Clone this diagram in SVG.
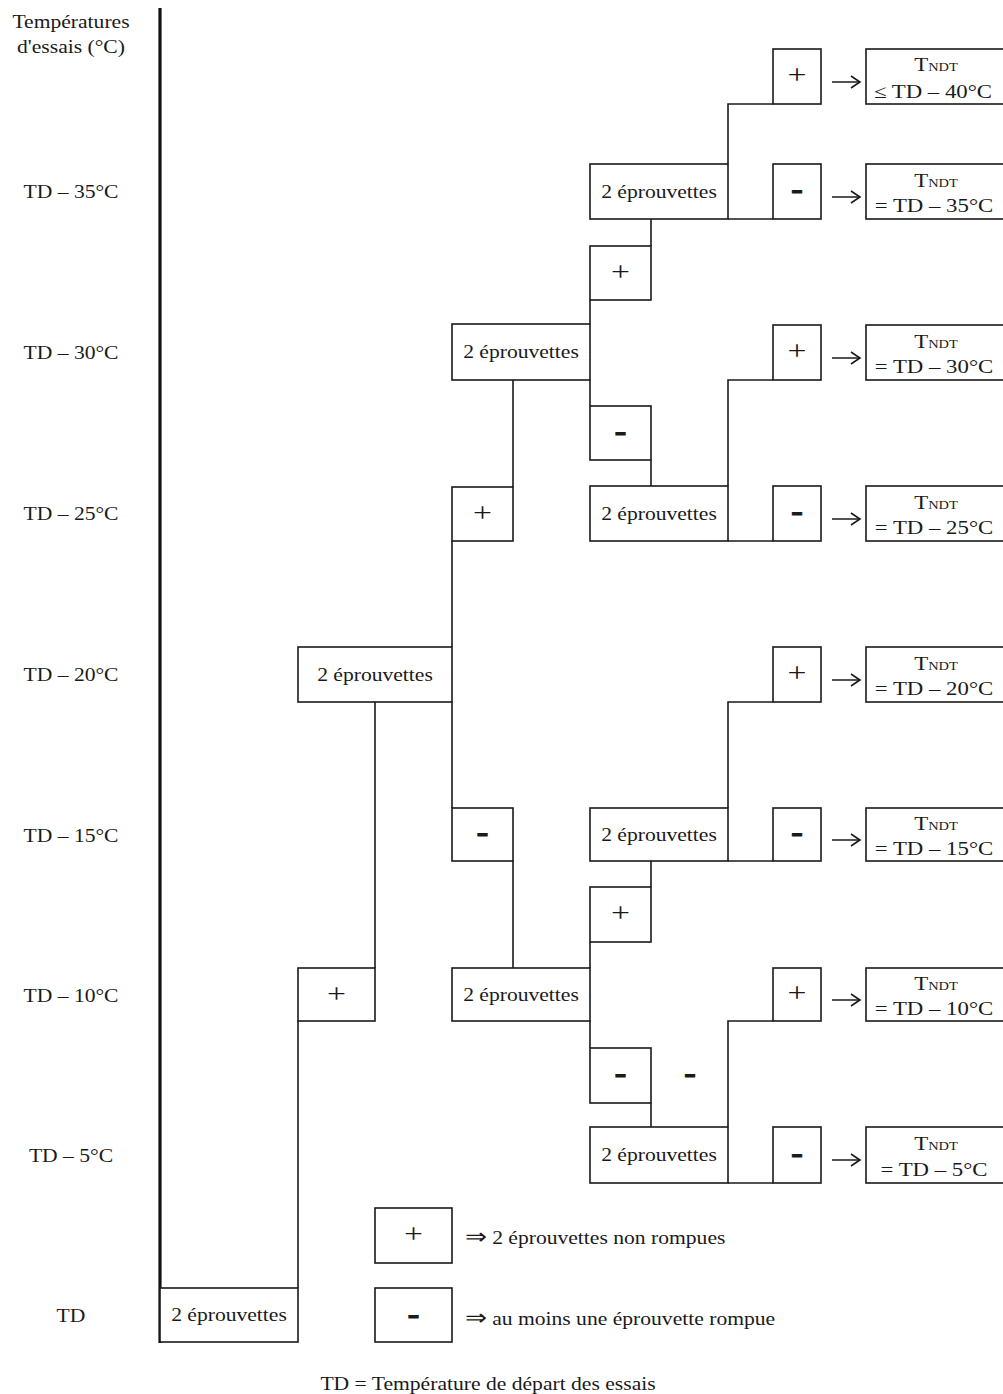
<svg xmlns="http://www.w3.org/2000/svg" width="1003" height="1394" viewBox="0 0 1003 1394">
<style>
.box{fill:#fff;stroke:#1a1a1a;stroke-width:1.6}
.conn{fill:none;stroke:#1a1a1a;stroke-width:1.6}
.arrow{fill:none;stroke:#1a1a1a;stroke-width:1.5;marker-end:url(#arr)}
.axis{stroke:#111;stroke-width:3.2}
text{font-family:"Liberation Serif","Times New Roman",serif;fill:#1a1a1a;text-anchor:middle}
.t{font-size:18px}
.r{font-size:19px}
.sub{font-size:12px}
.plus{font-size:28px}
.minus{font-size:30px;font-weight:bold;stroke:#1a1a1a;stroke-width:0.8}
.imp{font-size:22px}
.leg{text-anchor:start}
</style>
<defs>
<marker id="arr" markerUnits="userSpaceOnUse" markerWidth="12" markerHeight="14" refX="10" refY="7" orient="auto">
<path d="M1,1 L10,7 L1,13" fill="none" stroke="#1a1a1a" stroke-width="1.6"/>
</marker>
</defs>
<rect width="1003" height="1394" fill="#fff"/>

<g id="axis">
<line class="axis" x1="160" y1="8" x2="160" y2="1343"/>
<text class="t" transform="translate(71,28) scale(1.2,1)">Températures</text>
<text class="t" transform="translate(71,53) scale(1.2,1)">d'essais (°C)</text>
<text class="t" transform="translate(71,198) scale(1.2,1)">TD – 35°C</text>
<text class="t" transform="translate(71,359) scale(1.2,1)">TD – 30°C</text>
<text class="t" transform="translate(71,520) scale(1.2,1)">TD – 25°C</text>
<text class="t" transform="translate(71,681) scale(1.2,1)">TD – 20°C</text>
<text class="t" transform="translate(71,842) scale(1.2,1)">TD – 15°C</text>
<text class="t" transform="translate(71,1002) scale(1.2,1)">TD – 10°C</text>
<text class="t" transform="translate(71,1162) scale(1.2,1)">TD – 5°C</text>
<text class="t" transform="translate(71,1322) scale(1.2,1)">TD</text>
</g>

<g id="connectors">
<path class="conn" d="M298,1021 V1288"/>
<path class="conn" d="M375,702 V968"/>
<path class="conn" d="M452,541 V647"/>
<path class="conn" d="M452,702 V808"/>
<path class="conn" d="M513,380 V487"/>
<path class="conn" d="M590,300 V324"/>
<path class="conn" d="M590,380 V406"/>
<path class="conn" d="M651,219 V246"/>
<path class="conn" d="M651,460 V486"/>
<path class="conn" d="M728,164 V104 H773"/>
<path class="conn" d="M728,219 H773"/>
<path class="conn" d="M728,486 V380 H773"/>
<path class="conn" d="M728,541 H773"/>
<path class="conn" d="M513,861 V968"/>
<path class="conn" d="M590,942 V968"/>
<path class="conn" d="M590,1021 V1048"/>
<path class="conn" d="M651,861 V887"/>
<path class="conn" d="M651,1103 V1127"/>
<path class="conn" d="M728,808 V702 H773"/>
<path class="conn" d="M728,861 H773"/>
<path class="conn" d="M728,1127 V1021 H773"/>
<path class="conn" d="M728,1183 H773"/>
<path class="arrow" d="M832,82 H860"/>
<path class="arrow" d="M832,197 H860"/>
<path class="arrow" d="M832,358 H860"/>
<path class="arrow" d="M832,519 H860"/>
<path class="arrow" d="M832,680 H860"/>
<path class="arrow" d="M832,840 H860"/>
<path class="arrow" d="M832,1000 H860"/>
<path class="arrow" d="M832,1160 H860"/>
</g>

<g id="n-td"><rect class="box" x="160" y="1288" width="138" height="54"/><text class="t" transform="translate(229,1321) scale(1.2,1)">2 éprouvettes</text></g>
<g id="n-plus-td10"><rect class="box" x="298" y="968" width="77" height="53"/><text class="plus" transform="translate(336.5,1003) scale(1.2,1)">+</text></g>
<g id="n-td20"><rect class="box" x="298" y="647" width="154" height="55"/><text class="t" transform="translate(375,681) scale(1.2,1)">2 éprouvettes</text></g>
<g id="n-plus-td25"><rect class="box" x="452" y="487" width="61" height="54"/><text class="plus" transform="translate(482.5,522) scale(1.2,1)">+</text></g>
<g id="n-minus-td15"><rect class="box" x="452" y="808" width="61" height="53"/><text class="minus" transform="translate(482.5,842) scale(1.2,1)">-</text></g>
<g id="n-td30"><rect class="box" x="452" y="324" width="138" height="56"/><text class="t" transform="translate(521,358) scale(1.2,1)">2 éprouvettes</text></g>
<g id="n-td10"><rect class="box" x="452" y="968" width="138" height="53"/><text class="t" transform="translate(521,1001) scale(1.2,1)">2 éprouvettes</text></g>
<g id="n-plus-td33"><rect class="box" x="590" y="246" width="61" height="54"/><text class="plus" transform="translate(620.5,281) scale(1.2,1)">+</text></g>
<g id="n-minus-td28"><rect class="box" x="590" y="406" width="61" height="54"/><text class="minus" transform="translate(620.5,441) scale(1.2,1)">-</text></g>
<g id="n-plus-td13"><rect class="box" x="590" y="887" width="61" height="55"/><text class="plus" transform="translate(620.5,922) scale(1.2,1)">+</text></g>
<g id="n-minus-td8"><rect class="box" x="590" y="1048" width="61" height="55"/><text class="minus" transform="translate(620.5,1083) scale(1.2,1)">-</text><text class="minus" transform="translate(690,1083) scale(1.2,1)">-</text></g>
<g id="n-td35"><rect class="box" x="590" y="164" width="138" height="55"/><text class="t" transform="translate(659,198) scale(1.2,1)">2 éprouvettes</text></g>
<g id="n-td25"><rect class="box" x="590" y="486" width="138" height="55"/><text class="t" transform="translate(659,520) scale(1.2,1)">2 éprouvettes</text></g>
<g id="n-td15"><rect class="box" x="590" y="808" width="138" height="53"/><text class="t" transform="translate(659,841) scale(1.2,1)">2 éprouvettes</text></g>
<g id="n-td5"><rect class="box" x="590" y="1127" width="138" height="56"/><text class="t" transform="translate(659,1161) scale(1.2,1)">2 éprouvettes</text></g>

<g id="n-s40"><rect class="box" x="773" y="49" width="48" height="55"/><text class="plus" transform="translate(797,84) scale(1.2,1)">+</text></g>
<g id="n-s35"><rect class="box" x="773" y="164" width="48" height="55"/><text class="minus" transform="translate(797,199) scale(1.2,1)">-</text></g>
<g id="n-s30"><rect class="box" x="773" y="325" width="48" height="55"/><text class="plus" transform="translate(797,360) scale(1.2,1)">+</text></g>
<g id="n-s25"><rect class="box" x="773" y="486" width="48" height="55"/><text class="minus" transform="translate(797,521) scale(1.2,1)">-</text></g>
<g id="n-s20"><rect class="box" x="773" y="647" width="48" height="55"/><text class="plus" transform="translate(797,682) scale(1.2,1)">+</text></g>
<g id="n-s15"><rect class="box" x="773" y="808" width="48" height="53"/><text class="minus" transform="translate(797,842) scale(1.2,1)">-</text></g>
<g id="n-s10"><rect class="box" x="773" y="968" width="48" height="53"/><text class="plus" transform="translate(797,1002) scale(1.2,1)">+</text></g>
<g id="n-s5"><rect class="box" x="773" y="1127" width="48" height="56"/><text class="minus" transform="translate(797,1163) scale(1.2,1)">-</text></g>

<g id="n-r40"><rect class="box" x="866" y="49" width="145" height="55"/><text class="r" transform="translate(936,71) scale(1.2,1)">T<tspan class="sub">NDT</tspan></text><text class="r" transform="translate(933,98) scale(1.2,1)">≤ TD – 40°C</text></g>
<g id="n-r35"><rect class="box" x="866" y="164" width="145" height="55"/><text class="r" transform="translate(936,187) scale(1.2,1)">T<tspan class="sub">NDT</tspan></text><text class="r" transform="translate(934,212) scale(1.2,1)">= TD – 35°C</text></g>
<g id="n-r30"><rect class="box" x="866" y="325" width="145" height="55"/><text class="r" transform="translate(936,348) scale(1.2,1)">T<tspan class="sub">NDT</tspan></text><text class="r" transform="translate(934,373) scale(1.2,1)">= TD – 30°C</text></g>
<g id="n-r25"><rect class="box" x="866" y="486" width="145" height="55"/><text class="r" transform="translate(936,509) scale(1.2,1)">T<tspan class="sub">NDT</tspan></text><text class="r" transform="translate(934,534) scale(1.2,1)">= TD – 25°C</text></g>
<g id="n-r20"><rect class="box" x="866" y="647" width="145" height="55"/><text class="r" transform="translate(936,670) scale(1.2,1)">T<tspan class="sub">NDT</tspan></text><text class="r" transform="translate(934,695) scale(1.2,1)">= TD – 20°C</text></g>
<g id="n-r15"><rect class="box" x="866" y="808" width="145" height="53"/><text class="r" transform="translate(936,830) scale(1.2,1)">T<tspan class="sub">NDT</tspan></text><text class="r" transform="translate(934,855) scale(1.2,1)">= TD – 15°C</text></g>
<g id="n-r10"><rect class="box" x="866" y="968" width="145" height="53"/><text class="r" transform="translate(936,990) scale(1.2,1)">T<tspan class="sub">NDT</tspan></text><text class="r" transform="translate(934,1015) scale(1.2,1)">= TD – 10°C</text></g>
<g id="n-r5"><rect class="box" x="866" y="1127" width="145" height="56"/><text class="r" transform="translate(936,1150) scale(1.2,1)">T<tspan class="sub">NDT</tspan></text><text class="r" transform="translate(934,1176) scale(1.2,1)">= TD – 5°C</text></g>

<g id="legend">
<rect class="box" x="375" y="1208" width="77" height="55"/>
<text class="plus" transform="translate(413.5,1243) scale(1.2,1)">+</text>
<text class="t leg" transform="translate(465,1244) scale(1.2,1)"><tspan class="imp">⇒</tspan> 2 éprouvettes non rompues</text>
<rect class="box" x="375" y="1288" width="77" height="54"/>
<text class="minus" transform="translate(413.5,1324) scale(1.2,1)">-</text>
<text class="t leg" transform="translate(465,1325) scale(1.2,1)"><tspan class="imp">⇒</tspan> au moins une éprouvette rompue</text>
<text class="t" transform="translate(488,1390) scale(1.2,1)">TD = Température de départ des essais</text>
</g>
</svg>
